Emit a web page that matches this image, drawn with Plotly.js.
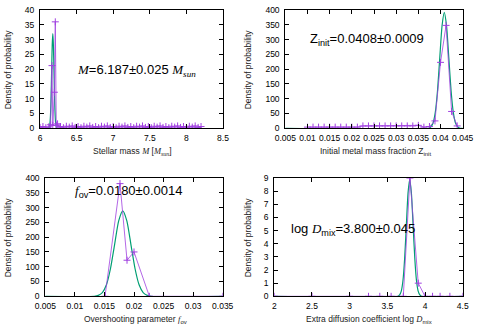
<!DOCTYPE html>
<html><head><meta charset="utf-8">
<script src="https://cdn.plot.ly/plotly-3.0.1.min.js"></script>
<style>html,body{margin:0;padding:0;background:#fff}#chart{width:480px;height:336px}</style>
</head><body><div id="chart"></div>
<script>
// ---- Panel 1: stellar mass ----
const massHistX = [6.00,6.04,6.08,6.12,6.145,6.164,6.175,6.196,6.209,6.222,6.240,6.26,6.28,
  6.32,6.36,6.40,6.44,6.48,6.52,6.56,6.60,6.64,6.68,6.72,6.76,6.80,6.84,6.88,6.92,6.96,7.00,
  7.04,7.08,7.12,7.16,7.20,7.24,7.28,7.32,7.36,7.40,7.44,7.48,7.52,7.56,7.60,7.64,7.68,7.72,
  7.76,7.80,7.84,7.88,7.92,7.96,8.00,8.04,8.08,8.12,8.16,8.20];
const massHistY = [0.3,0.6,0.2,0.5,1.2,21.2,1.0,12.2,36.0,1.0,1.5,0.4,0.6,
  0.2,0.7,0.4,0.8,0.3,0.6,0.2,0.7,0.4,0.8,0.3,0.6,0.2,0.7,0.4,0.8,0.3,0.6,
  0.2,0.7,0.4,0.8,0.3,0.6,0.2,0.7,0.4,0.8,0.3,0.6,0.2,0.7,0.4,0.8,0.3,0.6,
  0.2,0.7,0.4,0.8,0.3,0.6,0.2,0.7,0.4,0.8,0.3,0.6];
const massFitX = [6.0,6.115,6.127,6.135,6.143,6.151,6.159,6.167,6.175,6.183,6.191,6.199,6.207,6.215,6.223,6.235,8.2];
const massFitY = [0,0,0.36,1.4,4.3,10.4,19.4,28.2,32,28.2,19.4,10.4,4.3,1.4,0.36,0,0];
const massTicks = [6,6.5,7,7.5,8,8.5];
const massTickText = ["6","6.5","7","7.5","8","8.5"];
const massYTicks = [0,5,10,15,20,25,30,35,40];

// ---- Panel 2: initial metal mass fraction ----
const zHistX = [0.01,0.01125,0.0125,0.01375,0.015,0.01625,0.0175,0.01875,0.02,0.02125,
  0.0225,0.02375,0.025,0.02625,0.0275,0.02875,0.03,0.03125,0.0325,0.03375,
  0.035,0.03625,0.0375,0.03875,0.04,0.04125,0.0425,0.04375];
const zHistY = [4,4,4,4,4,4,4,4,4,4, 8,8,8,8,8,8,8,8,8,8, 10,4,6,25,223,348,57,8];
const zFitX = [0.005,0.0373,0.03779,0.0383,0.03881,0.03932,0.03983,0.04034,0.04085,0.04136,0.04187,0.04238,0.04289,0.0434,0.04391,0.0444,0.045];
const zFitY = [0,0,4.4,17,53,127,238,346,392,346,238,127,53,17,4.4,0,0];
const zTicks = [0.005,0.01,0.015,0.02,0.025,0.03,0.035,0.04,0.045];
const zTickText = ["0.005","0.01","0.015","0.02","0.025","0.03","0.035","0.04","0.045"];
const densYTicks = [0,50,100,150,200,250,300,350,400];

// ---- Panel 3: overshooting parameter ----
const fHistX = [0.0151,0.01763,0.01882,0.0200,0.0226,0.0350];
const fHistY = [0,381,122,150,0,0];
const fFitX = [0.005,0.0133,0.01396,0.01465,0.01534,0.01603,0.01672,0.01741,0.0181,0.01879,0.01948,0.02017,0.02086,0.02155,0.02224,0.0229,0.035];
const fFitY = [0,0,3.2,12.7,39,94,175,255,289,255,175,94,39,12.7,3.2,0,0];
const fTicks = [0.005,0.01,0.015,0.02,0.025,0.03,0.035];
const fTickText = ["0.005","0.01","0.015","0.02","0.025","0.03","0.035"];

// ---- Panel 4: extra diffusion coefficient ----
const dHistX = [2.0,2.5,3.0,3.25,3.4,3.55,3.712,3.80,3.91,4.0,4.1,4.2,4.33,4.5];
const dHistY = [0,0,0,0,0,0,0,9.0,1.0,0,0,0,0,0];
const dFitX = [2.0,3.64,3.6626,3.685,3.7074,3.7298,3.7522,3.7746,3.797,3.8194,3.8418,3.8642,3.8866,3.909,3.9314,3.954,4.5];
const dFitY = [0,0,0.1,0.39,1.2,2.89,5.4,7.85,8.9,7.85,5.4,2.89,1.2,0.39,0.1,0,0];
const dTicks = [2,2.5,3,3.5,4,4.5];
const dTickText = ["2","2.5","3","3.5","4","4.5"];
const dYTicks = [0,1,2,3,4,5,6,7,8,9];

const PURPLE = '#a040e0';
const GREEN = '#009e73';
const FONT = 'Liberation Sans, Arial, sans-serif';

function fit(x,y,xa,ya){return {x,y,xaxis:xa,yaxis:ya,type:'scatter',mode:'lines',line:{color:GREEN,width:1.2,shape:'spline',smoothing:0.6},hoverinfo:'skip'};}
function hist(x,y,xa,ya){return {x,y,xaxis:xa,yaxis:ya,type:'scatter',mode:'lines+markers',line:{color:PURPLE,width:0.8},marker:{symbol:'cross-thin',size:5,line:{color:PURPLE,width:1}},hoverinfo:'skip'};}

const data = [
  fit(massFitX,massFitY,'x','y'), hist(massHistX,massHistY,'x','y'),
  fit(zFitX,zFitY,'x2','y2'), hist(zHistX,zHistY,'x2','y2'),
  fit(fFitX,fFitY,'x3','y3'), hist(fHistX,fHistY,'x3','y3'),
  fit(dFitX,dFitY,'x4','y4'), hist(dHistX,dHistY,'x4','y4')
];

function ax(domain, range, tickvals, ticktext, anchor, standoff){
  return {domain, range, tickvals, ticktext: ticktext || tickvals.map(String), anchor,
    showline:true, mirror:'ticks', linecolor:'#000', linewidth:1,
    ticks:'inside', ticklen:4, tickwidth:1, tickcolor:'#000',
    ticklabelstandoff: standoff,
    showgrid:false, zeroline:false, fixedrange:true,
    tickfont:{family:FONT,size:8.5,color:'#000'}};
}
const row1 = [1-128.3/336, 1-10/336];
const row2 = [1-296.3/336, 1-178/336];

const layout = {
  width:480, height:336, margin:{l:0,r:0,t:0,b:0},
  paper_bgcolor:'#fff', plot_bgcolor:'#fff', showlegend:false,
  font:{family:FONT,size:8.5,color:'#000'},
  xaxis: ax([40/480,223/480],[6,8.5],massTicks,massTickText,'y',1),
  yaxis: ax(row1,[0,40],massYTicks,null,'x',3),
  xaxis2: ax([285.3/480,462.7/480],[0.005,0.045],zTicks,zTickText,'y2',1),
  yaxis2: ax(row1,[0,400],densYTicks,null,'x2',3),
  xaxis3: ax([45.3/480,222.7/480],[0.005,0.035],fTicks,fTickText,'y3',1),
  yaxis3: ax(row2,[0,400],densYTicks,null,'x3',3),
  xaxis4: ax([274.3/480,462.7/480],[2,4.5],dTicks,dTickText,'y4',1),
  yaxis4: ax(row2,[0,9],dYTicks,null,'x4',3),
  annotations: []
};

const SERIF = 'Liberation Serif, Times New Roman, serif';
function it(s){return '<span style="font-family:'+SERIF+'"><i>'+s+'</i></span>';}

const A = layout.annotations;
function lab(xref,yref,x,y,text,size){A.push({xref,yref,x,y,text,showarrow:false,xanchor:'left',yanchor:'middle',font:{family:FONT,size:size,color:'#000'}});}
lab('x','y',6.48,19.7,it('M')+'=6.187±0.025 '+it('M<sub>sun</sub>'),13);
lab('x2','y2',0.0102,301,'Z<sub>init</sub>=0.0408±0.0009',13);
lab('x3','y3',0.00974,355,it('f')+'<sub>ov</sub>=0.0180±0.0014',13);
lab('x4','y4',2.2,5.07,'log '+it('D')+'<sub>mix</sub>=3.800±0.045',13);

function title(x,y,text,angle){A.push({xref:'paper',yref:'paper',x:x/480,y:1-y/336,text,showarrow:false,xanchor:'center',yanchor:'middle',textangle:angle||0,font:{family:FONT,size:8.5,color:'#222'}});}
title(132,152,'Stellar mass '+it('M')+' ['+it('M<sub>sun</sub>')+']');
title(375,152,'Initial metal mass fraction Z<sub>init</sub>');
title(135,319.7,'Overshooting parameter '+it('f')+'<sub>ov</sub>');
title(369,319.7,'Extra diffusion coefficient log '+it('D')+'<sub>mix</sub>');
title(8.3,69,'Density of probability',-90);
title(248.3,69,'Density of probability',-90);
title(8.3,237,'Density of probability',-90);
title(248.3,237,'Density of probability',-90);

Plotly.newPlot('chart',data,layout,{staticPlot:true,displayModeBar:false});
</script></body></html>
